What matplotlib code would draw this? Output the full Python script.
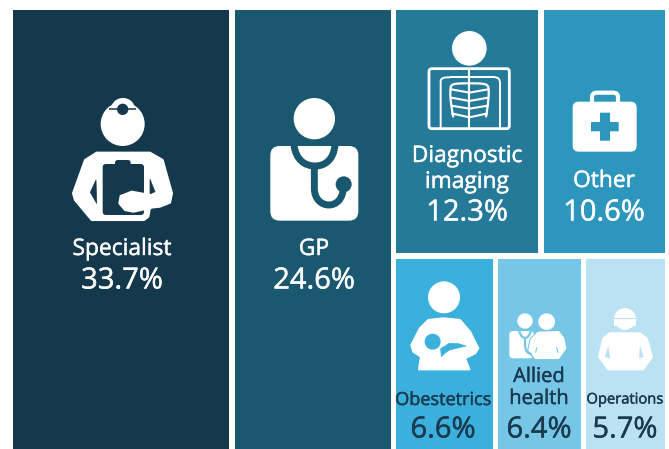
import numpy as np
import matplotlib
matplotlib.use('Agg')
import matplotlib.pyplot as plt
import matplotlib.patheffects as pe
from matplotlib.patches import Circle, Polygon, FancyBboxPatch, PathPatch, Rectangle, Ellipse
from matplotlib.path import Path

plt.rcParams['font.family'] = ['Open Sans', 'DejaVu Sans']

# treemap data
top_left = ['Specialist', 'GP']
top_left_vals = [33.7, 24.6]
right_top = ['Diagnostic\nimaging', 'Other']
right_top_vals = [12.3, 10.6]
right_bot = ['Obestetrics', 'Allied\nhealth', 'Operations']
right_bot_vals = [6.6, 6.4, 5.7]

DARK = '#1A3A4E'
WHITE = 'white'
cols = {'Specialist': '#15394C', 'GP': '#1A5870', 'Diagnostic\nimaging': '#267A99', 'Other': '#2C96BC',
        'Obestetrics': '#3CB0DC', 'Allied\nhealth': '#76C6E8', 'Operations': '#BBE2F3'}

fig = plt.figure(figsize=(6.69, 4.49), dpi=100)
ax = fig.add_axes([0, 0, 1, 1])
ax.set_xlim(0, 669)
ax.set_ylim(449, 0)
ax.axis('off')

# layout: outer box, gap between cells. the original treemap is not strictly
# proportional on the right side so the row split and bottom row shares are set by hand
x0, x1, y0, y1 = 13, 665, 10, 449
gap = 5.5
row_share = 0.560
bot_share = [0.372, 0.321, 0.307]

total = 100.0  # the rounded values add up to 99.9
W = x1 - x0 + gap
H = y1 - y0 + gap


def cell(name, x, y, w, h):
    ax.add_patch(Rectangle((x, y), w - gap, h - gap, fc=cols[name], ec='none'))


x = x0
for name, v in zip(top_left, top_left_vals):
    w = W * v / total
    cell(name, x, y0, w, H)
    x += w
xr = x
wr = x1 + gap - xr
x = xr
for name, v in zip(right_top, right_top_vals):
    w = wr * v / sum(right_top_vals)
    cell(name, x, y0, w, H * row_share)
    x += w
x = xr
yb = y0 + H * row_share
for name, s in zip(right_bot, bot_share):
    w = wr * s
    cell(name, x, yb, w, H * (1 - row_share))
    x += w


# icons are traced in 3x zoom coordinates, so everything goes through Z
def Z(pts, ox, oy):
    return [(ox + a / 3, oy + b / 3) for a, b in pts]


def poly(pts, ox, oy, c=WHITE, lw=1.5):
    ax.add_patch(Polygon(Z(pts, ox, oy), closed=True, fc=c, ec=c, lw=lw, joinstyle='round'))


def circ(cx, cy, r, ox, oy, c=WHITE):
    ax.add_patch(Circle((ox + cx / 3, oy + cy / 3), r / 3, fc=c, ec='none'))


def rrect(a, b, c_, d, rnd, ox, oy, fc=WHITE, ec='none', lw=0):
    ax.add_patch(FancyBboxPatch((ox + a / 3 + rnd / 3, oy + b / 3 + rnd / 3), (c_ - a - 2 * rnd) / 3, (d - b - 2 * rnd) / 3,
                                boxstyle='round,pad=%f,rounding_size=%f' % (rnd / 3, rnd / 3),
                                fc=fc, ec=ec, lw=lw))


def curve(pts, ox, oy, c=WHITE, lw=2.0):
    # first point then triples of bezier points
    q = Z(pts, ox, oy)
    codes = [Path.MOVETO] + [Path.CURVE4] * (len(q) - 1)
    ax.add_patch(PathPatch(Path(q, codes), fc='none', ec=c, lw=lw, capstyle='butt'))


def line(pts, ox, oy, c=WHITE, lw=1.5):
    q = np.array(Z(pts, ox, oy))
    ax.plot(q[:, 0], q[:, 1], color=c, lw=lw, solid_capstyle='butt')


# Specialist
bg = cols['Specialist']
ox, oy = 0, 60
circ(368, 192, 66, ox, oy)
ax.add_patch(Ellipse((123, 108), 23, 20, fc=WHITE, ec='none'))
line([(328, 147), (408, 147)], ox, oy, bg, 1.1)
circ(368, 148, 17, ox, oy, bg)
poly([(290, 278), (450, 278), (488, 300), (516, 400), (510, 428), (480, 440), (450, 443), (445, 470), (432, 480),
      (275, 480), (225, 420), (219, 400), (255, 300)], ox, oy)
rrect(308, 312, 432, 465, 10, ox, oy, fc=bg)
rrect(345, 300, 392, 325, 8, ox, oy, fc=bg)
poly([(288, 360), (271, 397), (290, 430)], ox, oy, bg, 0.5)
poly([(450, 358), (465, 395), (450, 402)], ox, oy, bg, 0.5)
poly([(395, 395), (450, 405), (455, 443), (400, 455), (375, 450), (358, 430), (362, 408)], ox, oy)

# GP
bg = cols['GP']
circ(943, 176, 62, ox, oy)
rrect(811, 258, 1075, 482, 28, ox, oy)
curve([(882, 256), (888, 300), (915, 318), (945, 318), (975, 318), (1000, 300), (1005, 256)], ox, oy, bg, 5.0)
curve([(943, 318), (943, 345), (943, 365), (943, 385), (943, 450), (1030, 455), (1030, 380)], ox, oy, bg, 5.0)
circ(1031, 373, 24, ox, oy, bg)

# Diagnostic imaging
ox, oy = 390, 0
circ(238, 145, 52, ox, oy)
rrect(117, 206, 358, 386, 8, ox, oy, fc='none', ec=WHITE, lw=2.0)
line([(238, 204), (238, 385)], ox, oy, lw=1.5)
curve([(152, 385), (152, 300), (152, 270), (152, 245), (152, 232), (165, 232), (180, 232)], ox, oy, lw=1.4)
line([(180, 232), (315, 232)], ox, oy, lw=1.4)
curve([(315, 232), (325, 232), (330, 238), (330, 250), (330, 300), (330, 340), (330, 385)], ox, oy, lw=1.4)
curve([(190, 352), (180, 300), (180, 280), (182, 262), (184, 250), (200, 250), (238, 250)], ox, oy, lw=1.6)
curve([(238, 250), (276, 250), (292, 250), (295, 262), (298, 280), (296, 300), (288, 352)], ox, oy, lw=1.6)
for ya, yb_ in [(268, 278), (293, 303), (317, 326), (340, 352)]:
    line([(184, ya), (238, yb_), (294, ya)], ox, oy, lw=1.5)

# Other
circ_bg = cols['Other']
rrect(606, 278, 684, 325, 14, ox, oy, fc='none', ec=WHITE, lw=3.0)
rrect(548, 305, 740, 455, 18, ox, oy)
rrect(630, 338, 660, 422, 0.1, ox, oy, fc=circ_bg)
rrect(603, 366, 686, 394, 0.1, ox, oy, fc=circ_bg)

# Obestetrics
ox, oy = 390, 250
bg = cols['Obestetrics']
circ(162, 142, 48, ox, oy)
poly([(115, 210), (160, 205), (210, 210), (240, 245), (265, 295), (255, 310), (225, 325), (238, 358), (87, 358),
      (93, 320), (70, 305), (64, 285), (90, 235)], ox, oy)
circ(128, 275, 24, ox, oy, bg)
poly([(154, 320), (152, 296), (178, 280), (205, 281), (228, 288), (178, 300), (162, 312)], ox, oy, bg, 0.5)

# Allied health
bg = cols['Allied\nhealth']
circ(405, 213, 23, ox, oy)
circ(470, 215, 25, ox, oy)
rrect(358, 243, 432, 325, 12, ox, oy)
poly([(445, 248), (505, 246), (520, 265), (527, 295), (515, 310), (505, 324), (435, 324), (418, 300), (425, 268)], ox, oy, bg, 3.0)
poly([(445, 248), (505, 246), (520, 265), (526, 295), (515, 310), (505, 324), (437, 324), (418, 300), (425, 268)], ox, oy)
curve([(388, 242), (390, 258), (400, 264), (405, 264), (410, 264), (420, 258), (422, 242)], ox, oy, bg, 1.6)
curve([(405, 264), (405, 285), (402, 310), (425, 312)], ox, oy, bg, 1.6)
line([(440, 292), (437, 308)], ox, oy, bg, 0.8)
line([(500, 292), (504, 308)], ox, oy, bg, 0.8)

# Operations
bg = cols['Operations']
circ(705, 207, 33, ox, oy)
line([(668, 204), (742, 204)], ox, oy, bg, 0.7)
line([(672, 230), (692, 236)], ox, oy, bg, 0.5)
line([(738, 230), (718, 236)], ox, oy, bg, 0.5)
rrect(672, 205, 738, 228, 2, ox, oy)
poly([(660, 250), (750, 250), (770, 265), (786, 320), (760, 358), (655, 358), (627, 320), (640, 265)], ox, oy)
poly([(655, 290), (645, 320), (660, 325)], ox, oy, bg, 0.3)
poly([(750, 290), (760, 320), (748, 325)], ox, oy, bg, 0.3)

# labels
txt = [
    (122, 249, 'Specialist', WHITE, 16.4), (122, 281, '%.1f%%' % top_left_vals[0], WHITE, 21),
    (314, 249, 'GP', WHITE, 16.4), (314, 281, '%.1f%%' % top_left_vals[1], WHITE, 21),
    (467, 156, 'Diagnostic', WHITE, 16.4), (467, 182, 'imaging', WHITE, 16.4), (467, 213, '%.1f%%' % right_top_vals[0], WHITE, 21),
    (604, 181, 'Other', WHITE, 16.4), (604, 213, '%.1f%%' % right_top_vals[1], WHITE, 21),
    (443, 400, 'Obestetrics', DARK, 13), (443, 430, '%.1f%%' % right_bot_vals[0], DARK, 21),
    (539, 377, 'Allied', DARK, 14.5), (539, 399, 'health', DARK, 14.5), (539, 430, '%.1f%%' % right_bot_vals[1], DARK, 21),
    (625, 400, 'Operations', DARK, 10.6), (625, 430, '%.1f%%' % right_bot_vals[2], DARK, 21),
]
for tx, ty, s, c, fs in txt:
    t = ax.text(tx, ty, s, color=c, fontsize=fs, ha='center', va='center')
    t.set_path_effects([pe.withStroke(linewidth=0.3, foreground=c)])

fig.savefig('out.png', dpi=100)
